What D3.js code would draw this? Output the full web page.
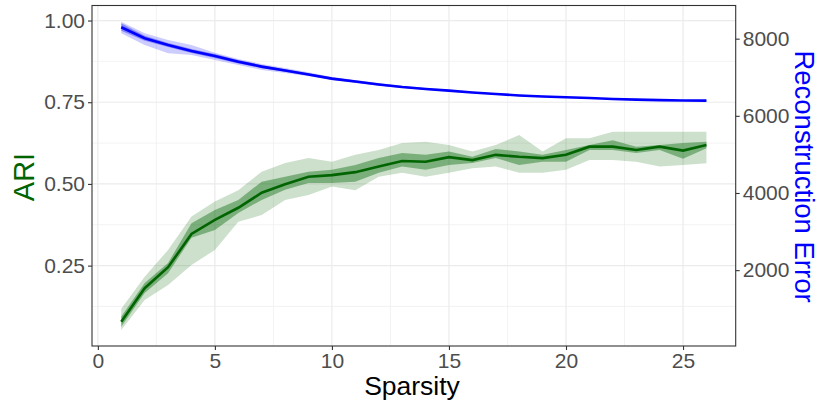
<!DOCTYPE html>
<html>
<head>
<script src="https://d3js.org/d3.v7.min.js"></script>
<style>
  body { margin: 0; background: #fff; }
  text { font-family: "Liberation Sans", Arial, sans-serif; }
</style>
</head>
<body>
<svg id="chart" width="820" height="405"></svg>
<script>
// sparsity levels
var sparsity = [1,2,3,4,5,6,7,8,9,10,11,12,13,14,15,16,17,18,19,20,21,22,23,24,25,26];

// ARI (left axis)
var ariMean = [0.078,0.181,0.245,0.347,0.390,0.427,0.473,0.499,0.522,0.527,0.536,0.553,0.570,0.568,0.582,0.573,0.589,0.583,0.579,0.589,0.614,0.614,0.604,0.614,0.602,0.619];
var ariLo   = [0.053,0.145,0.191,0.252,0.298,0.384,0.405,0.451,0.466,0.492,0.481,0.522,0.534,0.522,0.534,0.548,0.553,0.534,0.534,0.543,0.573,0.573,0.568,0.553,0.558,0.563];
var ariHi   = [0.118,0.216,0.298,0.400,0.446,0.481,0.537,0.564,0.579,0.568,0.589,0.604,0.625,0.629,0.619,0.599,0.619,0.650,0.599,0.640,0.640,0.660,0.660,0.660,0.660,0.660];
var ariQLo  = [0.063,0.166,0.227,0.335,0.359,0.411,0.451,0.482,0.503,0.503,0.507,0.534,0.553,0.543,0.558,0.564,0.579,0.558,0.568,0.568,0.604,0.604,0.595,0.604,0.577,0.609];
var ariQHi  = [0.094,0.197,0.258,0.380,0.420,0.451,0.507,0.522,0.537,0.543,0.558,0.579,0.595,0.589,0.599,0.583,0.607,0.599,0.589,0.604,0.619,0.634,0.614,0.619,0.625,0.629];

// Reconstruction error (right axis)
var errMean = [8296,8011,7837,7682,7552,7404,7275,7176,7073,6964,6891,6813,6748,6697,6652,6606,6567,6528,6502,6481,6463,6437,6419,6406,6398,6393];
var errLo   = [8141,7837,7622,7578,7449,7319,7190,7110,7023,6919,6851,6778,6718,6669,6627,6586,6548,6510,6485,6465,6448,6423,6406,6394,6386,6381];
var errHi   = [8441,8141,7967,7837,7638,7474,7345,7241,7128,7009,6931,6848,6778,6725,6677,6626,6586,6546,6519,6497,6478,6451,6432,6418,6410,6405];
var errQLo  = [8208,7946,7785,7630,7500,7358,7236,7145,7042,6933,6865,6787,6728,6680,6637,6594,6556,6518,6493,6472,6455,6429,6412,6399,6391,6386];
var errQHi  = [8400,8076,7889,7734,7604,7448,7314,7207,7104,6995,6917,6839,6768,6714,6667,6618,6578,6538,6511,6490,6471,6445,6426,6413,6405,6400];

var xTicks = [0,5,10,15,20,25];
var xMinor = [2.5,7.5,12.5,17.5,22.5];
var yTicks = [0.25,0.50,0.75,1.00];
var yMinor = [0.125,0.375,0.625,0.875];
var errTicks = [2000,4000,6000,8000];

var errScaleFactor = 8470;   // error = ARI-scale value * factor

var panelL = 92, panelR = 735.7, panelT = 5.5, panelB = 346;
var svg = d3.select("#chart");

var x = d3.scaleLinear().domain([-0.25, 27.25]).range([panelL, panelR]);
var y = d3.scaleLinear().domain([0.004, 1.046]).range([panelB, panelT]);
var yErr = d3.scaleLinear().domain([0.004 * errScaleFactor, 1.046 * errScaleFactor]).range([panelB, panelT]);

// grid
var grid = svg.append("g");
grid.selectAll(".ym").data(yMinor).enter().append("line")
    .attr("x1", panelL).attr("x2", panelR)
    .attr("y1", function (d) { return y(d); }).attr("y2", function (d) { return y(d); })
    .attr("stroke", "#ebebeb").attr("stroke-width", 0.6);
grid.selectAll(".xm").data(xMinor).enter().append("line")
    .attr("y1", panelT).attr("y2", panelB)
    .attr("x1", function (d) { return x(d); }).attr("x2", function (d) { return x(d); })
    .attr("stroke", "#ebebeb").attr("stroke-width", 0.6);
grid.selectAll(".yM").data(yTicks).enter().append("line")
    .attr("x1", panelL).attr("x2", panelR)
    .attr("y1", function (d) { return y(d); }).attr("y2", function (d) { return y(d); })
    .attr("stroke", "#ebebeb").attr("stroke-width", 1.2);
grid.selectAll(".xM").data(xTicks).enter().append("line")
    .attr("y1", panelT).attr("y2", panelB)
    .attr("x1", function (d) { return x(d); }).attr("x2", function (d) { return x(d); })
    .attr("stroke", "#ebebeb").attr("stroke-width", 1.2);

function band(lo, hi, scale) {
    return d3.area()
        .x(function (d, i) { return x(sparsity[i]); })
        .y0(function (d, i) { return scale(lo[i]); })
        .y1(function (d, i) { return scale(hi[i]); })(sparsity);
}
function line(vals, scale) {
    return d3.line()
        .x(function (d, i) { return x(sparsity[i]); })
        .y(function (d, i) { return scale(vals[i]); })(sparsity);
}

// reconstruction error
svg.append("path").attr("d", band(errLo, errHi, yErr)).attr("fill", "blue").attr("fill-opacity", 0.2);
svg.append("path").attr("d", band(errQLo, errQHi, yErr)).attr("fill", "blue").attr("fill-opacity", 0.35);
svg.append("path").attr("d", line(errMean, yErr)).attr("fill", "none").attr("stroke", "blue").attr("stroke-width", 2.6);

// ARI
svg.append("path").attr("d", band(ariLo, ariHi, y)).attr("fill", "darkgreen").attr("fill-opacity", 0.2);
svg.append("path").attr("d", band(ariQLo, ariQHi, y)).attr("fill", "darkgreen").attr("fill-opacity", 0.4);
svg.append("path").attr("d", line(ariMean, y)).attr("fill", "none").attr("stroke", "darkgreen").attr("stroke-width", 2.6);

// panel border
svg.append("rect").attr("x", panelL).attr("y", panelT).attr("width", panelR - panelL).attr("height", panelB - panelT)
    .attr("fill", "none").attr("stroke", "#333").attr("stroke-width", 1.1);

// axes
function styleAxis(g) {
    g.select(".domain").remove();
    g.selectAll(".tick line").attr("stroke", "#333").attr("stroke-width", 1.1);
    g.selectAll(".tick text").attr("fill", "#4d4d4d").style("font-size", "21px");
}
svg.append("g").attr("transform", "translate(0," + panelB + ")")
    .call(d3.axisBottom(x).tickValues(xTicks).tickSize(4).tickPadding(3).tickFormat(d3.format("d")))
    .call(styleAxis);
svg.append("g").attr("transform", "translate(" + panelL + ",0)")
    .call(d3.axisLeft(y).tickValues(yTicks).tickSize(4).tickPadding(3).tickFormat(d3.format(".2f")))
    .call(styleAxis);
svg.append("g").attr("transform", "translate(" + panelR + ",0)")
    .call(d3.axisRight(yErr).tickValues(errTicks).tickSize(4).tickPadding(3).tickFormat(d3.format("d")))
    .call(styleAxis);

// titles
svg.append("text").attr("x", 412).attr("y", 395)
    .attr("text-anchor", "middle").style("font-size", "26.5px").attr("fill", "black").text("Sparsity");
svg.append("text").attr("transform", "translate(33.5,177) rotate(-90)")
    .attr("text-anchor", "middle").style("font-size", "29px").attr("fill", "darkgreen").text("ARI");
svg.append("text").attr("transform", "translate(795,176.5) rotate(90)")
    .attr("text-anchor", "middle").style("font-size", "27.5px").attr("fill", "blue").text("Reconstruction Error");
</script>
</body>
</html>
